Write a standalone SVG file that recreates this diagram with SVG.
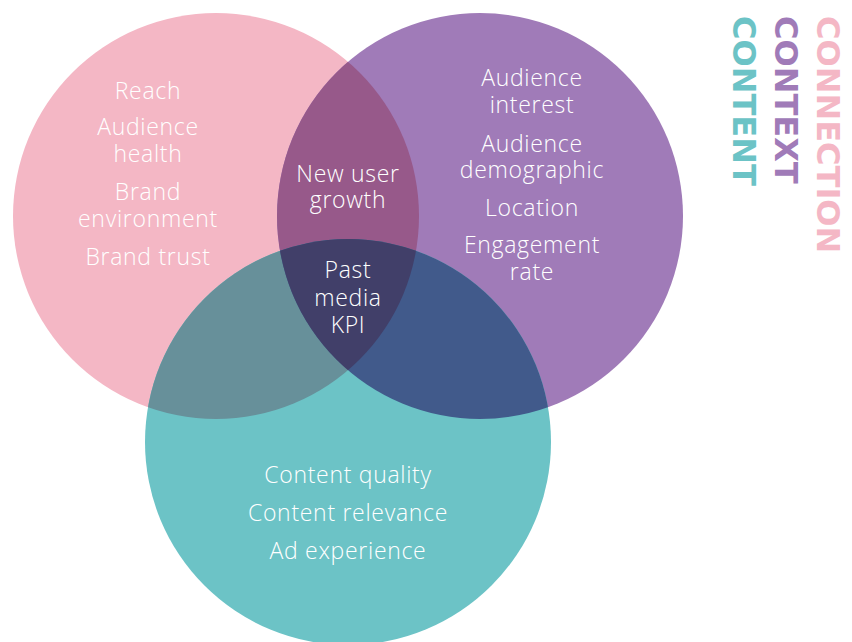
<svg xmlns="http://www.w3.org/2000/svg" width="852" height="642" viewBox="0 0 852 642">
<defs>
<style>
.t{font-family:"Open Sans","Liberation Sans",sans-serif;font-weight:300;font-size:23px;fill:#ffffff;text-anchor:middle;letter-spacing:0.7px}
.v{font-family:"DejaVu Sans",sans-serif;font-weight:bold;font-size:32px}
</style>
<clipPath id="cPink"><circle cx="216" cy="216" r="203"/></clipPath>
<clipPath id="cPurple"><circle cx="480" cy="216" r="203"/></clipPath>
<clipPath id="cTeal"><circle cx="348" cy="442" r="203"/></clipPath>
</defs>
<rect width="852" height="642" fill="#ffffff"/>
<g id="connection">
<circle cx="216" cy="216" r="203" fill="#F4B7C5"/>
</g>
<g id="context">
<circle cx="480" cy="216" r="203" fill="#A07BB8"/>
</g>
<g id="content">
<circle cx="348" cy="442" r="203" fill="#6CC3C6"/>
</g>
<g id="overlaps">
<circle cx="480" cy="216" r="203" fill="#97598A" clip-path="url(#cPink)"/>
<circle cx="348" cy="442" r="203" fill="#67909A" clip-path="url(#cPink)"/>
<circle cx="348" cy="442" r="203" fill="#415A8B" clip-path="url(#cPurple)"/>
<g clip-path="url(#cPurple)"><circle cx="348" cy="442" r="203" fill="#413F69" clip-path="url(#cPink)"/></g>
</g>
<g id="connection-labels">
<text class="t" x="148" y="99">Reach</text>
<text class="t" x="148" y="135">Audience</text>
<text class="t" x="148" y="162">health</text>
<text class="t" x="148" y="200">Brand</text>
<text class="t" x="148" y="227">environment</text>
<text class="t" x="148" y="265">Brand trust</text>
</g>
<g id="context-labels">
<text class="t" x="532" y="86">Audience</text>
<text class="t" x="532" y="113">interest</text>
<text class="t" x="532" y="152">Audience</text>
<text class="t" x="532" y="178">demographic</text>
<text class="t" x="532" y="216">Location</text>
<text class="t" x="532" y="253">Engagement</text>
<text class="t" x="532" y="280">rate</text>
</g>
<g id="center-labels">
<text class="t" x="348" y="182">New user</text>
<text class="t" x="348" y="208">growth</text>
<text class="t" x="348" y="278">Past</text>
<text class="t" x="348" y="306">media</text>
<text class="t" x="348" y="333">KPI</text>
</g>
<g id="content-labels">
<text class="t" x="348" y="483">Content quality</text>
<text class="t" x="348" y="521">Content relevance</text>
<text class="t" x="348" y="559">Ad experience</text>
</g>
<g id="legend">
<text class="v" fill="#6CC3C6" transform="translate(733,16) rotate(90)">CONTENT</text>
<text class="v" fill="#A07BB8" transform="translate(775,16) rotate(90)">CONTEXT</text>
<text class="v" fill="#F4B7C5" transform="translate(817,16) rotate(90)">CONNECTION</text>
</g>
</svg>
